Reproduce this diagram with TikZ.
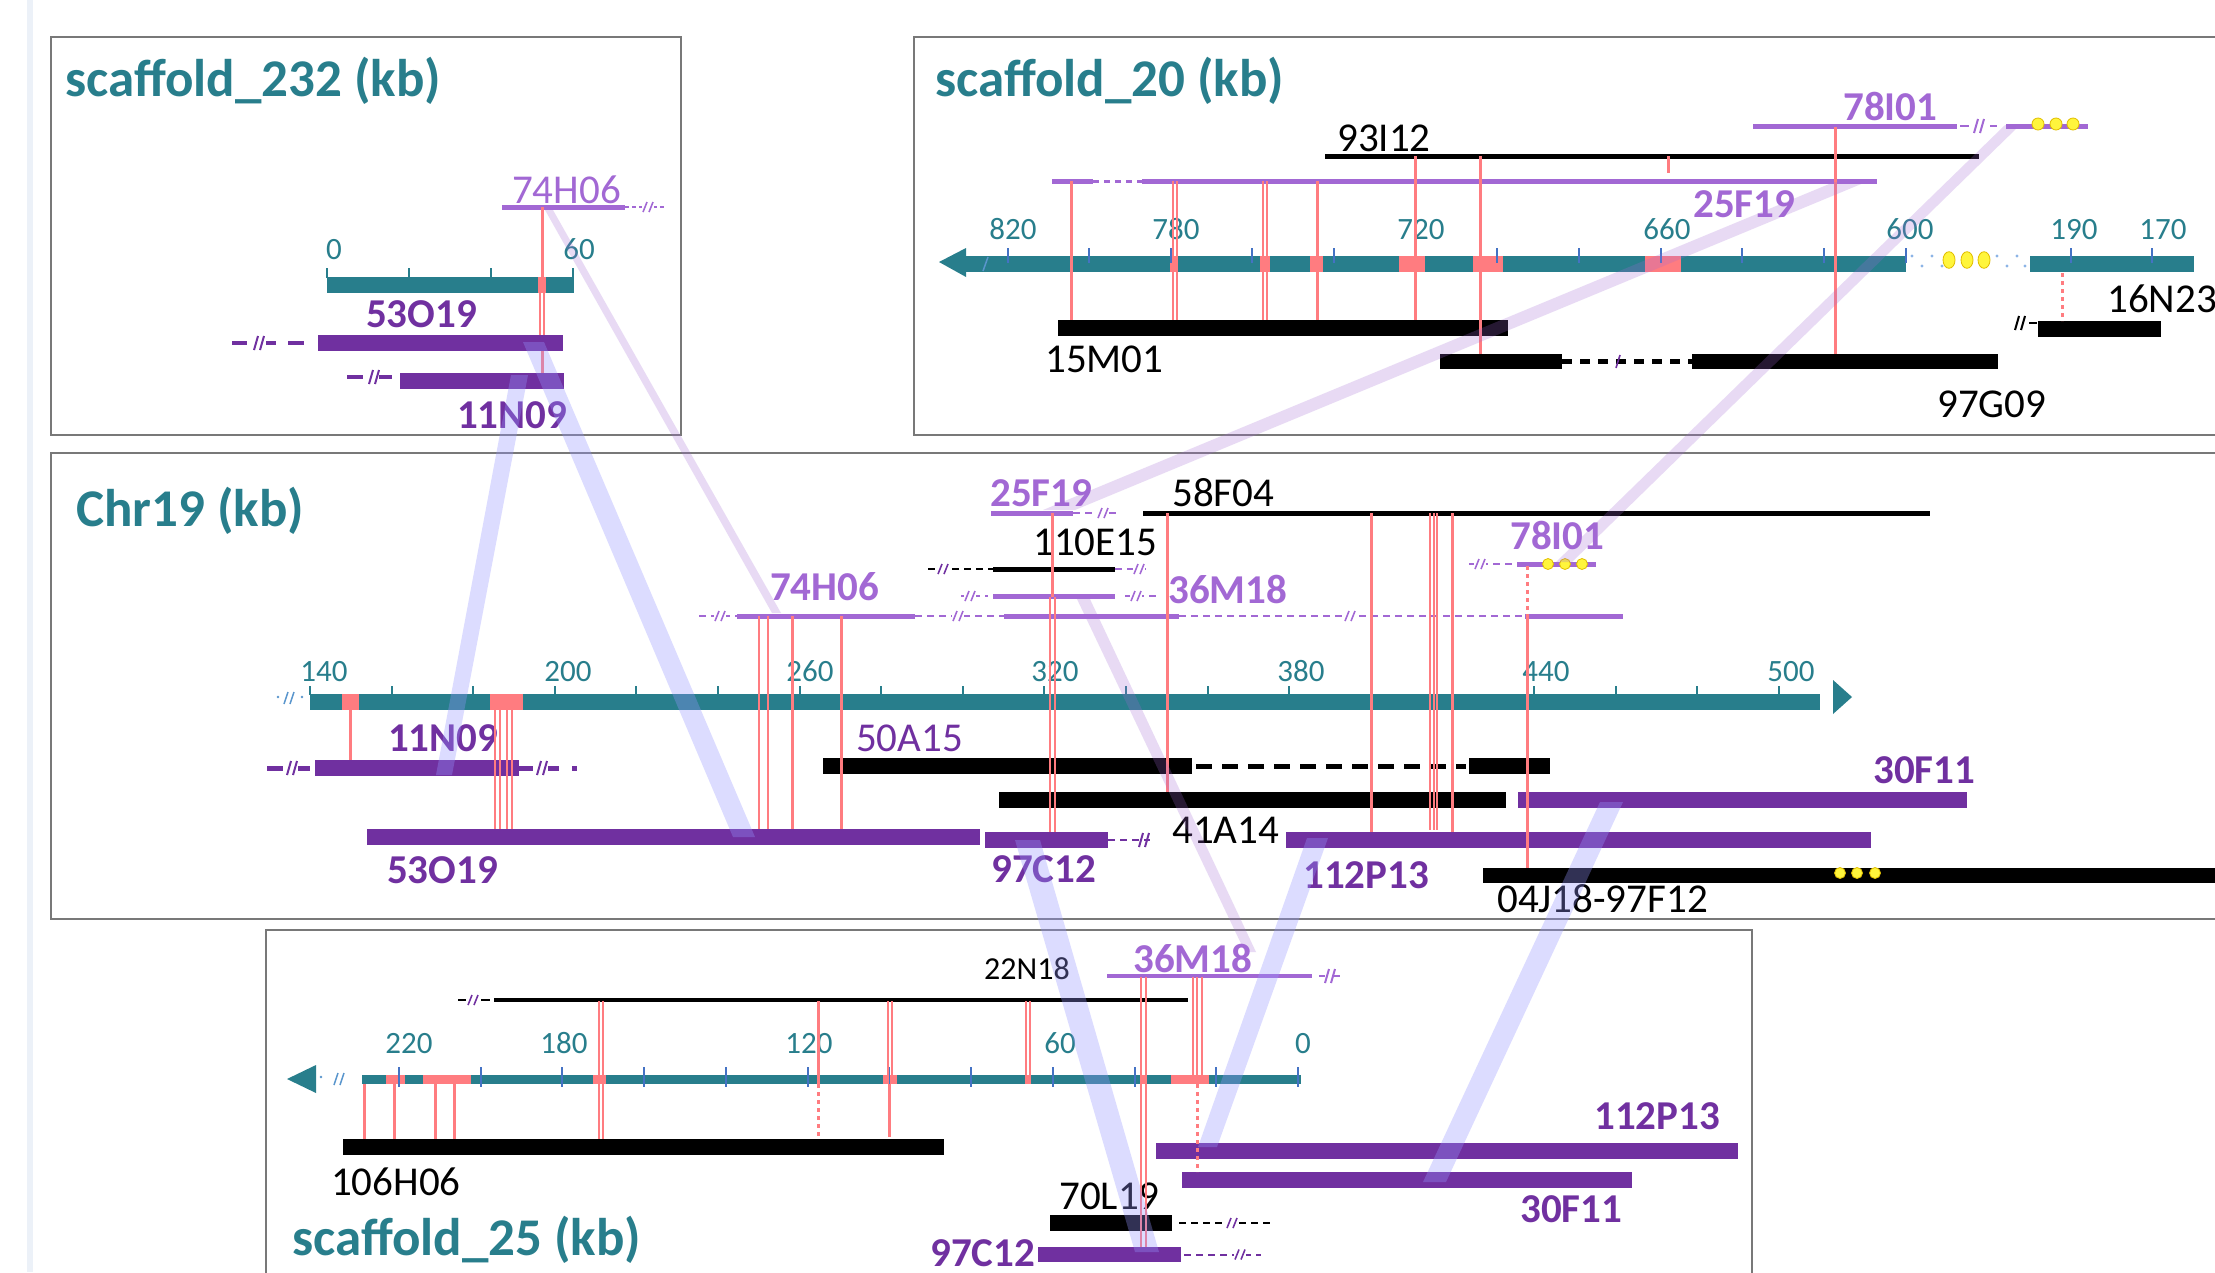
\documentclass[tikz,border=0pt]{standalone}
\usepackage{fontspec}
\setmainfont{Carlito}
\definecolor{cTeal}{RGB}{40,126,140}
\definecolor{cPurple}{RGB}{112,48,160}
\definecolor{cLilac}{RGB}{162,104,212}
\definecolor{cSalmon}{RGB}{255,124,128}
\definecolor{cTick}{RGB}{68,114,196}
\definecolor{cBand}{RGB}{150,150,255}
\definecolor{cBox}{RGB}{120,120,120}
\definecolor{cStrip}{RGB}{236,241,248}
\definecolor{cDot}{RGB}{140,180,230}
\definecolor{cBlueMark}{RGB}{90,150,205}
\definecolor{cYellow}{RGB}{255,245,60}
\definecolor{cGold}{RGB}{225,190,0}
\newcommand\fTitle{\fontsize{53}{60}\selectfont\bfseries}
\newcommand\fLab{\fontsize{41}{48}\selectfont}
\newcommand\fLabB{\fontsize{41}{48}\selectfont\bfseries}
\newcommand\fTick{\fontsize{31}{36}\selectfont}
\newcommand\fSmall{\fontsize{32}{38}\selectfont}
% break mark: x, y, colour
\newcommand\brk[3]{\fill[white] ({#1-6},{#2-3}) rectangle ({#1+6},{#2+3});
  \draw[#3,line width=1.6pt] ({#1-5},{#2+5}) -- ({#1-1},{#2-5}) ({#1+1},{#2+5}) -- ({#1+5},{#2-5});}
\newcommand\brkB[3]{\draw[#3,line width=2pt] ({#1-5},{#2+7}) -- ({#1-1},{#2-7}) ({#1+1},{#2+7}) -- ({#1+5},{#2-7});}
\tikzset{
  ttl/.style={anchor=base west, inner sep=0pt, text=cTeal, font=\fTitle},
  tlab/.style={anchor=base, inner sep=0pt, text=cTeal, font=\fTick},
  blab/.style={anchor=base west, inner sep=0pt, text=black, font=\fLab},
  plab/.style={anchor=base west, inner sep=0pt, text=cPurple, font=\fLabB},
  llab/.style={anchor=base west, inner sep=0pt, text=cLilac, font=\fLabB},
  panel/.style={draw=cBox, line width=2pt},
  axisbar/.style={draw=cTeal, line width=16pt},
  bac/.style={line width=16pt},
  thinbac/.style={line width=5pt},
  hl/.style={fill=cSalmon},
  rl/.style={draw=cSalmon, line width=3pt},
  rl2/.style={draw=cSalmon, line width=2pt},
  rdot/.style={draw=cSalmon, line width=3pt, dash pattern=on 4pt off 4pt},
  ext/.style={line width=2pt, dash pattern=on 7pt off 5pt},
  tk/.style={line width=2pt},
  ydot/.style={fill=cYellow, draw=cGold, line width=0.8pt},
  bband/.style={fill=cBand, fill opacity=0.33},
  lband/.style={fill=cLilac, fill opacity=0.24},
}
\begin{document}
\begin{tikzpicture}[x=1pt,y=-1pt]
\useasboundingbox (0,0) rectangle (2215,1272);
\clip (0,0) rectangle (2215,1272);
\fill[white] (0,0) rectangle (2215,1272);
\fill[cStrip] (27,0) rectangle (33,1272);

% ================= panels
\draw[panel] (51,37) rectangle (681,435);
\draw[panel] (914,37) rectangle (2240,435);
\draw[panel] (51,453) rectangle (2240,919);
\draw[panel] (266,930) rectangle (1752,1300);

% ================= scaffold_232
\node[ttl] (t232) at (65,96) {scaffold\_232 (kb)};
\draw[axisbar] (327,285) -- (574,285);
\fill[hl] (538,277) rectangle (546,293);
\foreach \x in {327,409,491,573} \draw[cTeal,tk] (\x,268) -- (\x,278);
\node[tlab] (s232t0) at (334,259) {0};
\node[tlab] (s232t60) at (579,259) {60};
% 74H06
\draw[cLilac,thinbac] (502,207) -- (625,207);
\draw[cLilac,line width=1.5pt,dash pattern=on 4pt off 3pt] (625,207) -- (666,207);
\brk{648}{207}{cLilac}
\node[anchor=base west, inner sep=0pt, text=cLilac, font=\fLab] (s232l74) at (512,203) {74H06};
% 53O19
\draw[cPurple,bac] (318,343) -- (563,343);
\foreach \a/\b in {232/247,266/276,288/304} \draw[cPurple,line width=4.5pt] (\a,343) -- (\b,343);
\brkB{259}{343}{cPurple}
\node[plab] (s232l53) at (366,327) {53O19};
% 11N09
\draw[cPurple,bac] (400,381) -- (564,381);
\foreach \a/\b in {347/363,379/392} \draw[cPurple,line width=4.5pt] (\a,377) -- (\b,377);
\brkB{374}{377}{cPurple}
\node[plab] (s232l11) at (457,428) {11N09};
% red lines
\draw[rl] (542,207) -- (542,277);
\draw[rl2] (540,293) -- (540,335) (544,293) -- (544,335);
\draw[rl] (542,351) -- (542,373);

% ================= scaffold_20
\node[ttl] (t20) at (935,96) {scaffold\_20 (kb)};
\fill[cTeal] (939,262) -- (966,248) -- (966,277) -- cycle;
\draw[axisbar] (966,264) -- (1906,264);
\draw[axisbar] (2030,264) -- (2194,264);
\foreach \a/\b in {1170/1178,1260/1270,1310/1323,1399/1425,1473/1503,1645/1681}
  \fill[hl] (\a,256) rectangle (\b,272);
\foreach \k in {0,...,11} \draw[cTick,tk] ({1007.5+81.66*\k},248) -- ({1007.5+81.66*\k},263);
\draw[cTick,tk] (2071,248) -- (2071,263);
\draw[cTick,tk] (2152,248) -- (2152,263);
\draw[cBlueMark,line width=1.5pt] (983,271) -- (988,257);
\node[tlab] at (1013,239) {820};
\node[tlab] at (1176,239) {780};
\node[tlab] at (1421,239) {720};
\node[tlab] at (1667,239) {660};
\node[tlab] at (1910,239) {600};
\node[tlab] at (2074,239) {190};
\node[tlab] at (2163,239) {170};
% gap with dots
\foreach \x in {1912,1932,1952,1997,2017} \fill[cDot] (\x,256) circle (1.6);
\foreach \x in {1922,1942,2007,2025} \fill[cDot] (\x,266) circle (1.6);
\foreach \x in {1949,1967,1984} \draw[ydot] (\x,260) ellipse (6 and 8.3);
% 78I01
\draw[cLilac,thinbac] (1753,126) -- (1957,126);
\foreach \a/\b in {1960/1969,1990/1997} \draw[cLilac,line width=2pt] (\a,126) -- (\b,126);
\brkB{1979}{126}{cLilac}
\draw[cLilac,thinbac] (2006,126) -- (2088,126);
\foreach \x in {2038,2056,2073} \draw[ydot] (\x,124) circle (6);
\node[llab] (s20l78) at (1843,120) {78I01};
% 93I12
\draw[black,thinbac] (1325,156) -- (1979,156);
\node[blab] (s20l93) at (1337,151) {93I12};
% 25F19
\draw[cLilac,thinbac] (1052,181) -- (1093,181);
\draw[cLilac,line width=3pt,dash pattern=on 6pt off 5pt] (1093,181) -- (1142,181);
\draw[cLilac,thinbac] (1142,181) -- (1877,181);
\node[llab] (s20l25) at (1693,217) {25F19};
% 15M01
\draw[black,bac] (1058,328) -- (1508,328);
\node[blab] (s20l15) at (1045,372) {15M01};
% 97G09
\draw[black,line width=15pt] (1440,361.5) -- (1562,361.5);
\draw[black,line width=15pt] (1692,361.5) -- (1998,361.5);
\draw[black,line width=5pt,dash pattern=on 10pt off 8pt] (1562,361.5) -- (1692,361.5);
\draw[cPurple,line width=1.6pt] (1616,368) -- (1620,355);
\node[blab] (s20l97) at (1937,417) {97G09};
% 16N23
\draw[black,bac] (2038,329) -- (2161,329);
\draw[black,line width=2pt] (2029,323) -- (2037,323);
\brkB{2020}{323}{black}
\node[blab] (s20l16) at (2107,312) {16N23};
% red lines
\draw[rl] (1071,181) -- (1071,320);
\draw[rl2] (1172.5,181) -- (1172.5,320) (1177,181) -- (1177,320);
\draw[rl2] (1262.5,181) -- (1262.5,320) (1267,181) -- (1267,320);
\draw[rl] (1317,181) -- (1317,320);
\draw[rl] (1415,156) -- (1415,320);
\draw[rl] (1480,156) -- (1480,354);
\draw[rl] (1668,156) -- (1668,173);
\draw[rl] (1835,127) -- (1835,354);
\draw[rdot] (2062,273) -- (2062,321);

% ================= Chr19
\node[ttl] (tchr) at (76,526) {Chr19 (kb)};
\draw[axisbar] (310,702) -- (1820,702);
\fill[cTeal] (1833,680) -- (1852,697) -- (1833,714) -- cycle;
\fill[hl] (342,694) rectangle (359,710);
\fill[hl] (490,694) rectangle (523,710);
\foreach \k in {0,...,18} \draw[cTeal,tk] ({310+81.6*\k},686) -- ({310+81.6*\k},695);
\fill[cBlueMark] (278,697) circle (1.3) (302,697) circle (1.3);
\draw[cBlueMark,line width=1.5pt] (284,704) -- (288,692) (290,704) -- (294,692);
\node[tlab] at (324,681) {140};
\node[tlab] at (568,681) {200};
\node[tlab] at (810,681) {260};
\node[tlab] at (1055,681) {320};
\node[tlab] at (1301,681) {380};
\node[tlab] at (1546,681) {440};
\node[tlab] at (1791,681) {500};
% 58F04
\draw[black,thinbac] (1143,513) -- (1930,513);
\node[blab] (cl58) at (1172,506) {58F04};
% 25F19
\draw[cLilac,thinbac] (991,513) -- (1073,513);
\draw[cLilac,ext] (1073,513) -- (1116,513);
\brk{1103}{513}{cLilac}
\node[llab] (cl25) at (990,506) {25F19};
% 110E15
\draw[black,ext] (928,569) -- (993,569);
\brk{943}{569}{cPurple}
\draw[black,thinbac] (993,569) -- (1115,569);
\draw[cLilac,ext] (1115,569) -- (1146,569);
\brk{1139}{569}{cLilac}
\node[blab] (cl110) at (1033,555) {110E15};
% 36M18 upper
\draw[cLilac,ext] (961,596) -- (988,596);
\brk{970}{596}{cLilac}
\draw[cLilac,thinbac] (993,596) -- (1115,596);
\draw[cLilac,ext] (1125,596) -- (1157,596);
\brk{1136}{596}{cLilac}
\node[llab] (cl36) at (1168,603) {36M18};
% 74H06 / lower lilac line
\draw[cLilac,ext] (699,616) -- (737,616);
\brk{720}{616}{cLilac}
\draw[cLilac,thinbac] (737,616) -- (915,616);
\draw[cLilac,ext] (915,616) -- (1004,616);
\brk{958}{616}{cLilac}
\draw[cLilac,thinbac] (1004,616) -- (1179,616);
\draw[cLilac,ext] (1179,616) -- (1525,616);
\brk{1350}{616}{cLilac}
\draw[cLilac,thinbac] (1525,616) -- (1623,616);
\node[llab] (cl74) at (770,600) {74H06};
% 78I01
\draw[cLilac,ext] (1469,564) -- (1517,564);
\brk{1480}{564}{cLilac}
\draw[cLilac,thinbac] (1517,564) -- (1596,564);
\foreach \x in {1548,1565,1582} \draw[ydot] (\x,564) circle (5.5);
\node[llab] (cl78) at (1510,549) {78I01};
% 50A15
\draw[black,bac] (823,766) -- (1192,766);
\draw[black,line width=5pt,dash pattern=on 16pt off 10pt] (1196,766) -- (1466,766);
\draw[black,bac] (1469,766) -- (1550,766);
\node[anchor=base west, inner sep=0pt, text=cPurple, font=\fLab] (cl50) at (856,751) {50A15};
% 41A14
\draw[black,bac] (999,800) -- (1506,800);
\node[blab] (cl41) at (1172,843) {41A14};
% 30F11
\draw[cPurple,bac] (1518,800) -- (1967,800);
\node[plab] (cl30) at (1873,783) {30F11};
% 11N09
\draw[cPurple,bac] (315,768) -- (519,768);
\foreach \a/\b in {267/283,298/310,519/533,548/559,572/577} \draw[cPurple,line width=5pt] (\a,768) -- (\b,768);
\brkB{292}{768}{cPurple}
\brkB{542}{768}{cPurple}
\node[plab] (cl11) at (388,751) {11N09};
% 53O19
\draw[cPurple,bac] (367,837) -- (980,837);
\node[plab] (cl53) at (387,883) {53O19};
% 97C12
\draw[cPurple,bac] (985,840) -- (1108,840);
\draw[cPurple,ext] (1108,840) -- (1150,840);
\brkB{1144}{840}{cPurple}
\node[plab] (cl97) at (991,882) {97C12};
% 112P13
\draw[cPurple,bac] (1286,840) -- (1871,840);
\node[plab] (cl112) at (1303,888) {112P13};
% 04J18-97F12
\draw[black,line width=15pt] (1483,875.5) -- (2240,875.5);
\foreach \x in {1840,1857,1875} \draw[ydot] (\x,873) circle (5.5);
\node[blab] (cl04) at (1497,912) {04J18-97F12};
% red lines
\draw[rl] (350,710) -- (350,760);
\draw[rl2] (495,710) -- (495,829) (499.5,710) -- (499.5,829) (507,710) -- (507,829) (512,710) -- (512,829);
\draw[rl2] (759,616) -- (759,829) (767.5,616) -- (767.5,829);
\draw[rl] (792,616) -- (792,829);
\draw[rl] (841,616) -- (841,829);
\draw[rl] (1052.5,513) -- (1052.5,597);
\draw[rl2] (1050,597) -- (1050,832) (1055,597) -- (1055,832);
\draw[rl] (1167,513) -- (1167,792);
\draw[rl] (1371.5,513) -- (1371.5,832);
\draw[rl2] (1430,513) -- (1430,830) (1433.5,513) -- (1433.5,830) (1437,513) -- (1437,830);
\draw[rl] (1452,513) -- (1452,832);
\draw[rdot] (1527,566) -- (1527,616);
\draw[rl] (1527,616) -- (1527,868);

% ================= scaffold_25
\node[ttl] (t25) at (292,1255) {scaffold\_25 (kb)};
\fill[cTeal] (287,1079) -- (316,1065) -- (316,1093) -- cycle;
\fill[cBlueMark] (321,1077) circle (1.3);
\draw[cBlueMark,line width=1.5pt] (334,1085) -- (338,1073) (340,1085) -- (344,1073);
\draw[cTeal,line width=9pt] (362,1079.5) -- (1301,1079.5);
\foreach \a/\b in {386/405,423/471,593/606,883/897,1025/1031,1140/1147,1171/1209}
  \fill[hl] (\a,1075) rectangle (\b,1084);
\foreach \k in {0,...,11} \draw[cTick,tk] ({1298-81.75*\k},1067) -- ({1298-81.75*\k},1087);
\node[tlab] at (409,1053) {220};
\node[tlab] at (564,1053) {180};
\node[tlab] at (809,1053) {120};
\node[tlab] at (1060,1053) {60};
\node[tlab] at (1303,1053) {0};
% 22N18
\draw[black,line width=4.7pt] (494,1000) -- (1188,1000);
\foreach \a/\b in {458/466,481/490} \draw[black,line width=2pt] (\a,1000) -- (\b,1000);
\brk{473}{1000}{cPurple}
\node[anchor=base west, inner sep=0pt, font=\fSmall] (sl22) at (984,979) {22N18};
% 36M18
\draw[cLilac,line width=4.5pt] (1107,976) -- (1312,976);
\foreach \a/\b in {1319/1325,1334/1340} \draw[cLilac,line width=2pt] (\a,976) -- (\b,976);
\brkB{1330}{976}{cLilac}
\node[llab] (sl36) at (1133,972) {36M18};
% 106H06
\draw[black,bac] (343,1147) -- (944,1147);
\node[blab] (sl106) at (331,1195) {106H06};
% 112P13
\draw[cPurple,bac] (1156,1151) -- (1738,1151);
\node[plab] (sl112) at (1594,1129) {112P13};
% 30F11
\draw[cPurple,bac] (1182,1180) -- (1632,1180);
\node[plab] (sl30) at (1520,1222) {30F11};
% 70L19
\draw[black,bac] (1050,1223) -- (1172,1223);
\draw[black,ext] (1179,1223) -- (1270,1223);
\brk{1232}{1223}{cPurple}
\node[blab] (sl70) at (1059,1209) {70L19};
% 97C12
\draw[cPurple,line width=15pt] (1038,1254.5) -- (1181,1254.5);
\draw[cPurple,ext] (1184,1254.5) -- (1261,1254.5);
\brk{1240}{1254.5}{cPurple}
\node[plab, text depth=0pt] (sl97) at (930,1266) {97C12};
% red lines
\draw[rl] (364.5,1084) -- (364.5,1139) (394,1084) -- (394,1139) (435,1084) -- (435,1139) (454,1084) -- (454,1139);
\draw[rl2] (598.7,1001) -- (598.7,1139) (602.7,1001) -- (602.7,1139);
\draw[rl] (818.6,1001) -- (818.6,1084);
\draw[rdot] (818.6,1084) -- (818.6,1139);
\draw[rl2] (887.5,1001) -- (887.5,1084) (891.5,1001) -- (891.5,1084);
\draw[rl] (889.5,1084) -- (889.5,1137);
\draw[rl2] (1026,1001) -- (1026,1084) (1030,1001) -- (1030,1084);
\draw[rl2] (1141,977) -- (1141,1247) (1146,977) -- (1146,1247);
\draw[rl2] (1193,977) -- (1193,1084) (1197,977) -- (1197,1084) (1201.5,977) -- (1201.5,1084);
\draw[rdot] (1197,1084) -- (1197,1172);

% ================= bands
\coordinate (b1a) at (511,375); \coordinate (b1b) at (528,375);
\coordinate (b1c) at (452,775); \coordinate (b1d) at (436,775);
\fill[bband] (b1a) -- (b1b) -- (b1c) -- (b1d) -- cycle;
\coordinate (b2a) at (523,342); \coordinate (b2b) at (544,342);
\coordinate (b2c) at (755,837); \coordinate (b2d) at (733,837);
\fill[bband] (b2a) -- (b2b) -- (b2c) -- (b2d) -- cycle;
\coordinate (b3a) at (1015,840); \coordinate (b3b) at (1040,840);
\coordinate (b3c) at (1159,1252); \coordinate (b3d) at (1135,1252);
\fill[bband] (b3a) -- (b3b) -- (b3c) -- (b3d) -- cycle;
\coordinate (b4a) at (1307,838); \coordinate (b4b) at (1328,838);
\coordinate (b4c) at (1217,1147); \coordinate (b4d) at (1198,1147);
\fill[bband] (b4a) -- (b4b) -- (b4c) -- (b4d) -- cycle;
\coordinate (b5a) at (1600,802); \coordinate (b5b) at (1623,802);
\coordinate (b5c) at (1446,1182); \coordinate (b5d) at (1423,1182);
\fill[bband] (b5a) -- (b5b) -- (b5c) -- (b5d) -- cycle;
% lilac
\coordinate (l1a) at (545,210); \coordinate (l1b) at (553,210);
\coordinate (l1c) at (781,613); \coordinate (l1d) at (772,613);
\fill[lband] (l1a) -- (l1b) -- (l1c) -- (l1d) -- cycle;
\coordinate (l2a) at (1834,182); \coordinate (l2b) at (1866,182);
\coordinate (l2c) at (1075,510); \coordinate (l2d) at (1043,510);
\fill[lband] (l2a) -- (l2b) -- (l2c) -- (l2d) -- cycle;
\coordinate (l3a) at (2005,125); \coordinate (l3b) at (2020,125);
\coordinate (l3c) at (1572,562); \coordinate (l3d) at (1556,562);
\fill[lband] (l3a) -- (l3b) -- (l3c) -- (l3d) -- cycle;
\coordinate (l4a) at (1076,597); \coordinate (l4b) at (1089,597);
\coordinate (l4c) at (1256,952); \coordinate (l4d) at (1245,952);
\fill[lband] (l4a) -- (l4b) -- (l4c) -- (l4d) -- cycle;
\end{tikzpicture}
\end{document}
